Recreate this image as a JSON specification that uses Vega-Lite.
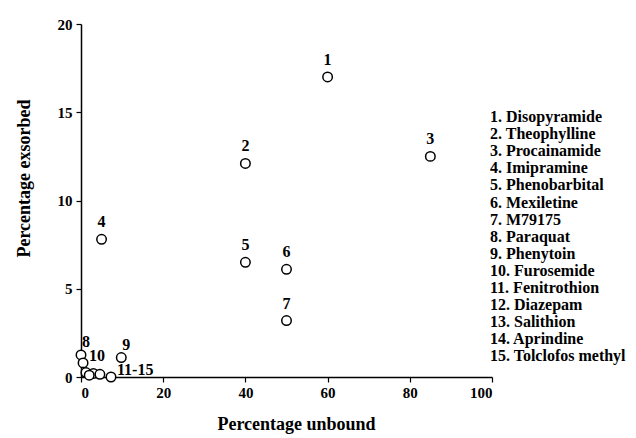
{
  "$schema": "https://vega.github.io/schema/vega-lite/v6.json",
  "width": 411,
  "height": 353,
  "autosize": {"type": "none"},
  "padding": {"left": 81, "top": 24, "right": 144, "bottom": 61},
  "background": "white",
  "config": {
    "view": {"stroke": null},
    "font": "Liberation Serif",
    "axis": {
      "labelFont": "Liberation Serif", "labelFontWeight": "bold", "labelFontSize": 15, "labelColor": "black",
      "titleFont": "Liberation Serif", "titleFontWeight": "bold", "titleFontSize": 18, "titleColor": "black",
      "domainColor": "black", "domainWidth": 1.5, "tickColor": "black", "tickWidth": 1.2, "tickSize": 5,
      "grid": false
    }
  },
  "data": {
    "values": [
      {"id": 1, "name": "1. Disopyramide", "x": 60, "y": 17, "lab": "1"},
      {"id": 2, "name": "2. Theophylline", "x": 40, "y": 12.1, "lab": "2"},
      {"id": 3, "name": "3. Procainamide", "x": 85, "y": 12.5, "lab": "3"},
      {"id": 4, "name": "4. Imipramine", "x": 5, "y": 7.8, "lab": "4"},
      {"id": 5, "name": "5. Phenobarbital", "x": 40, "y": 6.5, "lab": "5"},
      {"id": 6, "name": "6. Mexiletine", "x": 50, "y": 6.1, "lab": "6"},
      {"id": 7, "name": "7. M79175", "x": 50, "y": 3.2, "lab": "7"},
      {"id": 8, "name": "8. Paraquat", "x": 0, "y": 1.25, "lab": "8"},
      {"id": 9, "name": "9. Phenytoin", "x": 9.8, "y": 1.1, "lab": "9"},
      {"id": 10, "name": "10. Furosemide", "x": 0.5, "y": 0.8, "lab": "10"},
      {"id": 11, "name": "11. Fenitrothion", "x": 1.2, "y": 0.25, "lab": ""},
      {"id": 12, "name": "12. Diazepam", "x": 3, "y": 0.2, "lab": ""},
      {"id": 13, "name": "13. Salithion", "x": 4.6, "y": 0.15, "lab": ""},
      {"id": 14, "name": "14. Aprindine", "x": 7.3, "y": 0, "lab": "11-15"},
      {"id": 15, "name": "15. Tolclofos methyl", "x": 2, "y": 0.1, "lab": ""}
    ]
  },
  "encoding": {
    "x": {"field": "x", "type": "quantitative", "scale": {"domain": [0, 100], "nice": false, "zero": false},
      "axis": {"values": [0, 20, 40, 60, 80, 100], "title": "Percentage unbound", "titlePadding": 15, "titleX": 215, "labelPadding": 3}},
    "y": {"field": "y", "type": "quantitative", "scale": {"domain": [0, 20], "nice": false, "zero": false},
      "axis": {"values": [0, 5, 10, 15, 20], "title": "Percentage exsorbed", "titleY": 154, "titlePadding": 24, "labelPadding": 4}}
  },
  "layer": [
    {
      "mark": {"type": "point", "shape": "circle", "filled": true, "fill": "white", "size": 90, "strokeWidth": 1.5, "opacity": 1},
      "encoding": {
        "stroke": {"field": "name", "type": "nominal",
          "scale": {"domain": ["1. Disopyramide", "2. Theophylline", "3. Procainamide", "4. Imipramine", "5. Phenobarbital", "6. Mexiletine", "7. M79175", "8. Paraquat", "9. Phenytoin", "10. Furosemide", "11. Fenitrothion", "12. Diazepam", "13. Salithion", "14. Aprindine", "15. Tolclofos methyl"],
            "range": ["black", "black", "black", "black", "black", "black", "black", "black", "black", "black", "black", "black", "black", "black", "black"]},
          "legend": {"title": null, "orient": "none", "legendX": 393, "legendY": 85, "padding": 0,
            "symbolSize": 0, "symbolStrokeWidth": 0, "symbolOpacity": 0, "labelOffset": 0,
            "labelFont": "Liberation Serif", "labelFontWeight": "bold", "labelFontSize": 16, "labelColor": "black",
            "rowPadding": 1.1, "labelLimit": 200}
        }
      }
    },
    {
      "transform": [{"filter": {"field": "id", "oneOf": [1, 2, 3, 4, 5, 6, 7]}}],
      "mark": {"type": "text", "dy": -17, "align": "center", "baseline": "middle", "font": "Liberation Serif", "fontWeight": "bold", "fontSize": 16, "color": "black"},
      "encoding": {"text": {"field": "lab"}}
    },
    {
      "transform": [{"filter": {"field": "id", "oneOf": [8, 9]}}],
      "mark": {"type": "text", "dx": 5, "dy": -13, "align": "center", "baseline": "middle", "font": "Liberation Serif", "fontWeight": "bold", "fontSize": 16, "color": "black"},
      "encoding": {"text": {"field": "lab"}}
    },
    {
      "transform": [{"filter": {"field": "id", "oneOf": [10, 14]}}],
      "mark": {"type": "text", "dx": 6, "dy": -7, "align": "left", "baseline": "middle", "font": "Liberation Serif", "fontWeight": "bold", "fontSize": 16, "color": "black"},
      "encoding": {"text": {"field": "lab"}}
    }
  ]
}
